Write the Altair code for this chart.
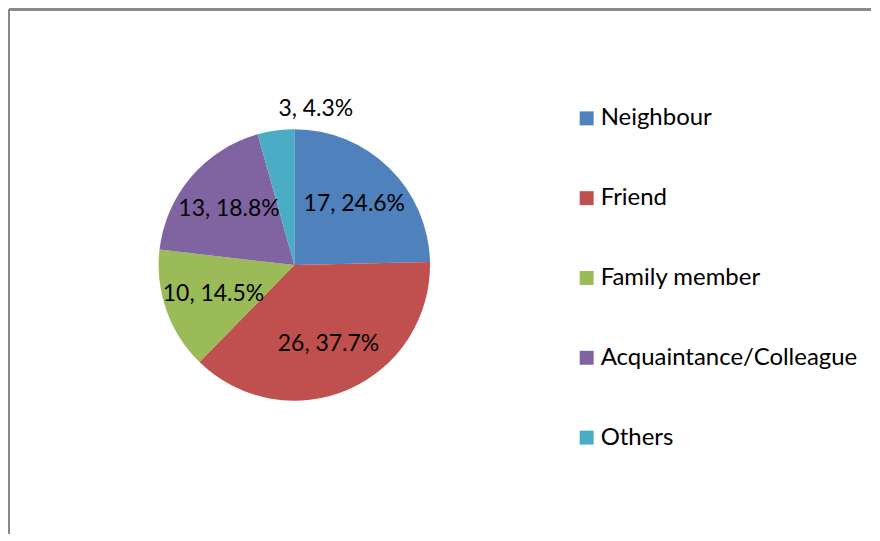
import altair as alt
import pandas as pd

categories = ["Neighbour", "Friend", "Family member", "Acquaintance/Colleague", "Others"]
counts = [17, 26, 10, 13, 3]
colors = ["#4F81BD", "#C0504D", "#9BBB59", "#8064A2", "#4BACC6"]

df = pd.DataFrame({"category": categories, "value": counts, "order": list(range(len(categories)))})

W, H = 864, 525
CX, CY = 286, 256
R = 136
FONT = "Lato"

base = alt.Chart(df).transform_joinaggregate(total="sum(value)").transform_calculate(
    label="datum.value + ', ' + format(datum.value / datum.total * 100, '.1f') + '%'",
    labelR="datum.category == 'Others' ? 158 : 86",
)

arcs = base.mark_arc(outerRadius=R, stroke=None).encode(
    theta=alt.Theta("value:Q", stack=True),
    order=alt.Order("order:Q"),
    x=alt.value(CX),
    y=alt.value(CY),
    color=alt.Color(
        "category:N",
        scale=alt.Scale(domain=categories, range=colors),
        sort=categories,
        legend=alt.Legend(
            title=None,
            orient="none",
            legendX=567,
            legendY=97,
            symbolType="square",
            symbolSize=196,
            symbolStrokeWidth=0,
            symbolOpacity=1,
            labelFont=FONT,
            labelFontSize=24,
            labelColor="#000000",
            labelOffset=2,
            rowPadding=56,
            labelLimit=400,
        ),
    ),
)

labels = base.mark_text(font=FONT, fontSize=23, color="#000000").encode(
    theta=alt.Theta("value:Q", stack=True),
    order=alt.Order("order:Q"),
    radius=alt.Radius("labelR:Q", scale=None),
    x=alt.value(CX),
    y=alt.value(CY),
    text="label:N",
)

left_rule = alt.Chart(df).mark_rule(color="#888888", strokeWidth=2).encode(
    x=alt.value(0), y=alt.value(0), y2=alt.value(H)
)
top_rule = alt.Chart(df).mark_rule(color="#888888", strokeWidth=2).encode(
    y=alt.value(0), x=alt.value(0), x2=alt.value(W)
)

chart = alt.layer(arcs, labels, left_rule, top_rule).properties(
    width=W, height=H, padding=0
).configure_view(stroke=None)

chart.save("out.html", embed_options={"renderer": "svg", "actions": False})
